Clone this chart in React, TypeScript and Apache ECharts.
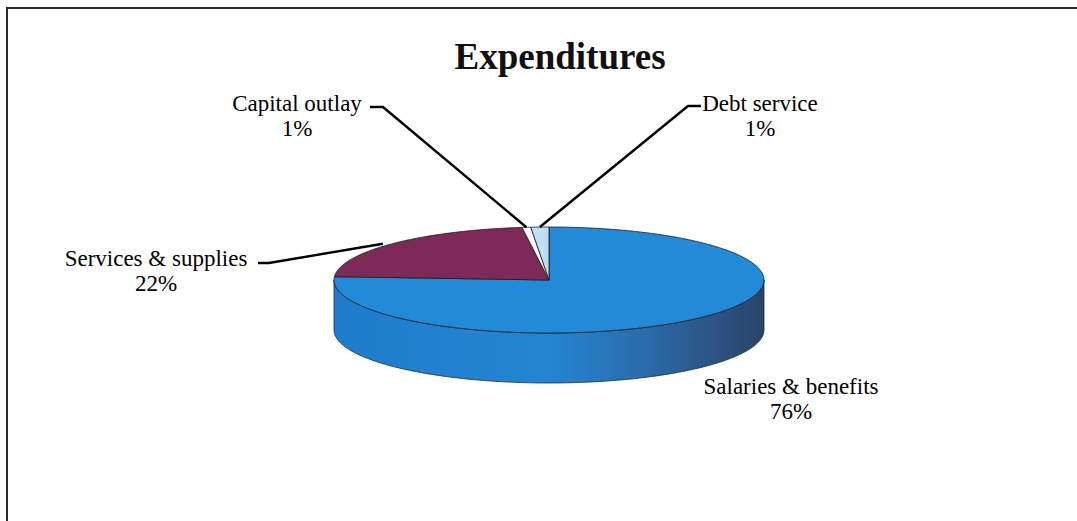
import React, { useEffect, useRef } from "react";
import * as echarts from "echarts";

const TITLE = "Expenditures";
const NAMES = ["Salaries & benefits", "Services & supplies", "Capital outlay", "Debt service"];
const VALUES = [76.0, 22.0, 0.65, 1.35];
const COLORS = ["#2389d9", "#7e2a58", "#ffffff", "#bde0f5"];

// layout (not data)
const PIE = { cx: 549, cy: 280, rx: 215, ry: 53, depth: 50 };
const LABEL_LAYOUT = [
  { x: 791, y: 386, leader: null, endFactor: 1 },
  { x: 156, y: 258, leader: [258, 263, 269, 263], endFactor: 1.06 },
  { x: 297, y: 103, leader: [370, 107, 383, 107], endFactor: 1 },
  { x: 760, y: 103, leader: [701, 106, 688, 106], endFactor: 1 },
];
const FONT = "23px 'Liberation Serif', 'Times New Roman', serif";

const TOTAL = VALUES.reduce((a, b) => a + b, 0);
function sliceAngles(i: number) {
  let s = 0;
  for (let k = 0; k < i; k++) s += VALUES[k];
  const a0 = (s / TOTAL) * 360;
  const a1 = ((s + VALUES[i]) / TOTAL) * 360;
  return [a0, a1];
}
function pt(theta: number, dy = 0, f = 1) {
  const r = (theta * Math.PI) / 180;
  return [PIE.cx + f * PIE.rx * Math.sin(r), PIE.cy - PIE.ry * Math.cos(r) + dy];
}
function arc(a0: number, a1: number, dy = 0) {
  const pts: number[][] = [];
  const n = Math.max(2, Math.ceil(Math.abs(a1 - a0) / 0.5));
  for (let k = 0; k <= n; k++) pts.push(pt(a0 + ((a1 - a0) * k) / n, dy));
  return pts;
}

export default function App() {
  const ref = useRef<HTMLDivElement>(null);
  useEffect(() => {
    if (!ref.current) return;
    const chart = echarts.init(ref.current, null, { renderer: "svg" });
    const data = VALUES.map((v, i) => [i, v]);

    const sideGradient = new echarts.graphic.LinearGradient(0, 0, 1, 0, [
      { offset: 0, color: "#1f7ccc" },
      { offset: 0.5, color: "#2485d3" },
      { offset: 0.72, color: "#2a6cab" },
      { offset: 0.88, color: "#2d5485" },
      { offset: 1, color: "#2a4468" },
    ]);

    const renderSide = (params: any, api: any) => {
      const i = params.dataIndex;
      const [a0, a1] = sliceAngles(i);
      const s = Math.max(a0, 90);
      const e = Math.min(a1, 270);
      if (e <= s) return { type: "group", children: [] };
      const top = arc(s, e, 0);
      const bot = arc(s, e, PIE.depth).reverse();
      return {
        type: "polygon",
        shape: { points: top.concat(bot) },
        style: {
          fill: i === 0 ? sideGradient : COLORS[i],
          stroke: "#1b2a3a",
          lineWidth: 0.8,
        },
      };
    };

    const renderTop = (params: any, api: any) => {
      const i = params.dataIndex;
      const [a0, a1] = sliceAngles(i);
      const pts = [[PIE.cx, PIE.cy]].concat(arc(a0, a1, 0));
      return {
        type: "polygon",
        shape: { points: pts },
        style: { fill: COLORS[i], stroke: "#1a1a1a", lineWidth: 0.8 },
      };
    };

    const renderLabel = (params: any, api: any) => {
      const i = params.dataIndex;
      const v = api.value(1);
      const pct = Math.round((v / TOTAL) * 100);
      const L = LABEL_LAYOUT[i];
      const children: any[] = [
        {
          type: "text",
          x: L.x,
          y: L.y,
          style: {
            text: NAMES[i],
            font: FONT,
            fill: "#000",
            textAlign: "center",
            textVerticalAlign: "middle",
          },
        },
        {
          type: "text",
          x: L.x,
          y: L.y + 25,
          style: {
            text: pct + "%",
            font: FONT,
            fill: "#000",
            textAlign: "center",
            textVerticalAlign: "middle",
          },
        },
      ];
      if (L.leader) {
        const [a0, a1] = sliceAngles(i);
        const end = pt((a0 + a1) / 2, 0, L.endFactor);
        children.push({
          type: "polyline",
          shape: {
            points: [
              [L.leader[0], L.leader[1]],
              [L.leader[2], L.leader[3]],
              end,
            ],
          },
          style: { stroke: "#000", lineWidth: 2.4, fill: "none" },
        });
      }
      return { type: "group", children };
    };

    chart.setOption({
      animation: false,
      backgroundColor: "#ffffff",
      title: {
        text: TITLE,
        left: 555,
        top: 33,
        textAlign: "center",
        textStyle: {
          fontFamily: "'Liberation Serif', 'Times New Roman', serif",
          fontWeight: "bold",
          fontSize: 37,
          color: "#111",
        },
      },
      graphic: [
        {
          type: "polyline",
          shape: { points: [[7, 521], [7, 8], [1077, 8]] },
          style: { stroke: "#2a2a2a", lineWidth: 2, fill: "none" },
        },
      ],
      series: [
        { type: "custom", coordinateSystem: "none", data, renderItem: renderSide, z: 1, silent: true },
        { type: "custom", coordinateSystem: "none", data, renderItem: renderTop, z: 2, silent: true },
        { type: "custom", coordinateSystem: "none", data, renderItem: renderLabel, z: 3, silent: true },
      ],
    });
    return () => chart.dispose();
  }, []);
  return (
    <div
      ref={ref}
      style={{ position: "fixed", left: 0, top: 0, width: 1077, height: 521, background: "#fff" }}
    />
  );
}
